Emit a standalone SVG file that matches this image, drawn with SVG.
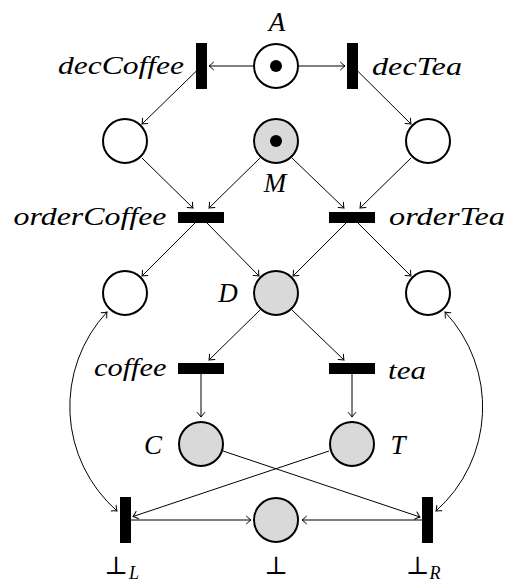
<svg xmlns="http://www.w3.org/2000/svg" width="509" height="582" viewBox="0 0 509 582">
  <style>
    .place { fill: #ffffff; stroke: #000; stroke-width: 2; }
    .place.hl { fill: #d9d9d9; }
    .trans { fill: #000; }
    .token { fill: #000; }
    .arc { fill: none; stroke: #000; stroke-width: 1; marker-end: url(#tip); }
    .both { marker-start: url(#tip); }
    .lbl { font-family: 'Liberation Serif', 'Times New Roman', Times, serif; font-style: italic; font-size: 25px; fill: #000; }
    .cap { font-size: 27px; }
    .sym { font-family: 'DejaVu Serif', 'DejaVu Sans', serif; font-size: 25px; fill: #000; }
    .sub { font-family: 'Liberation Serif', 'Times New Roman', Times, serif; font-style: italic; font-size: 18px; fill: #000; }
  </style>
  <defs>
    <marker id="tip" markerUnits="userSpaceOnUse" markerWidth="12" markerHeight="12" viewBox="-6 -6 12 12" refX="0" refY="0" orient="auto-start-reverse" overflow="visible">
      <path d="M-4.5,-3.8 Q-1.6,-1 0,0 Q-1.6,1 -4.5,3.8" fill="none" stroke="#000" stroke-width="1" stroke-linecap="round"/>
    </marker>
  </defs>

  <!-- arcs of the net -->
  <g id="connectors">
    <path class="arc" d="M253,66 L209,66"/>
    <path class="arc" d="M299,66 L345,66"/>
    <path class="arc" d="M196,71.4 L142,124"/>
    <path class="arc" d="M358,71.4 L411,124"/>
    <path class="arc" d="M142,158 L193,208"/>
    <path class="arc" d="M260,158 L209,208"/>
    <path class="arc" d="M292,158 L344,208"/>
    <path class="arc" d="M411,158 L360,208"/>
    <path class="arc" d="M195,223 L142,276"/>
    <path class="arc" d="M207,223 L259,276"/>
    <path class="arc" d="M346,223 L293,276"/>
    <path class="arc" d="M358,223 L411,276"/>
    <path class="arc" d="M260,310 L209,360"/>
    <path class="arc" d="M292,310 L344,360"/>
    <path class="arc" d="M201,373.5 L201,417"/>
    <path class="arc" d="M352,373.5 L352,417"/>
    <path class="arc" d="M223,451 L420,517"/>
    <path class="arc" d="M329,451 L133,516.5"/>
    <path class="arc" d="M131,520 L251,520"/>
    <path class="arc" d="M422,520 L302,520"/>
    <path class="arc both" d="M107,312 A139,139 0 0 0 117,511"/>
    <path class="arc both" d="M445,312 A139,139 0 0 1 436,511"/>
  </g>

  <!-- places -->
  <g id="A"><circle class="place" cx="276" cy="66" r="22"/><circle class="token" cx="276" cy="66" r="6"/><text class="lbl cap" x="277" y="31" text-anchor="middle">A</text></g>
  <g id="p1"><circle class="place" cx="125" cy="141" r="22"/></g>
  <g id="M"><circle class="place hl" cx="276" cy="141" r="22"/><circle class="token" cx="276" cy="141" r="6"/><text class="lbl cap" x="275" y="192" text-anchor="middle">M</text></g>
  <g id="p2"><circle class="place" cx="428" cy="141" r="22"/></g>
  <g id="p3"><circle class="place" cx="125" cy="293" r="22"/></g>
  <g id="D"><circle class="place hl" cx="276" cy="293" r="22"/><text class="lbl cap" x="228" y="302" text-anchor="middle">D</text></g>
  <g id="p4"><circle class="place" cx="428" cy="293" r="22"/></g>
  <g id="C"><circle class="place hl" cx="201" cy="444" r="22"/><text class="lbl cap" x="153" y="454" text-anchor="middle">C</text></g>
  <g id="T"><circle class="place hl" cx="352" cy="444" r="22"/><text class="lbl cap" x="398" y="454" text-anchor="middle">T</text></g>
  <g id="bot"><circle class="place hl" cx="276" cy="520" r="22"/><text class="sym" x="276" y="574" text-anchor="middle">⊥</text></g>

  <!-- transitions -->
  <g id="decCoffee"><rect class="trans" x="196" y="43" width="11" height="46"/><text class="lbl" x="58" y="73.5" textLength="126" lengthAdjust="spacingAndGlyphs">decCoffee</text></g>
  <g id="decTea"><rect class="trans" x="347" y="43" width="11" height="46"/><text class="lbl" x="372" y="74.5" textLength="90" lengthAdjust="spacingAndGlyphs">decTea</text></g>
  <g id="orderCoffee"><rect class="trans" x="178" y="212" width="46" height="11"/><text class="lbl" x="13.5" y="225" textLength="153" lengthAdjust="spacingAndGlyphs">orderCoffee</text></g>
  <g id="orderTea"><rect class="trans" x="329" y="212" width="46" height="11"/><text class="lbl" x="389" y="225" textLength="116" lengthAdjust="spacingAndGlyphs">orderTea</text></g>
  <g id="coffee"><rect class="trans" x="178" y="363" width="46" height="11"/><text class="lbl" x="94" y="376" textLength="72.5" lengthAdjust="spacingAndGlyphs">coffee</text></g>
  <g id="tea"><rect class="trans" x="329" y="363" width="46" height="11"/><text class="lbl" x="388" y="379" textLength="38" lengthAdjust="spacingAndGlyphs">tea</text></g>
  <g id="botL"><rect class="trans" x="120" y="497" width="11" height="46"/><text class="sym" x="116" y="574" text-anchor="middle">⊥</text><text class="sub" x="129" y="578.5">L</text></g>
  <g id="botR"><rect class="trans" x="422" y="497" width="11" height="46"/><text class="sym" x="417.5" y="574" text-anchor="middle">⊥</text><text class="sub" x="429.5" y="578.5">R</text></g>
</svg>
